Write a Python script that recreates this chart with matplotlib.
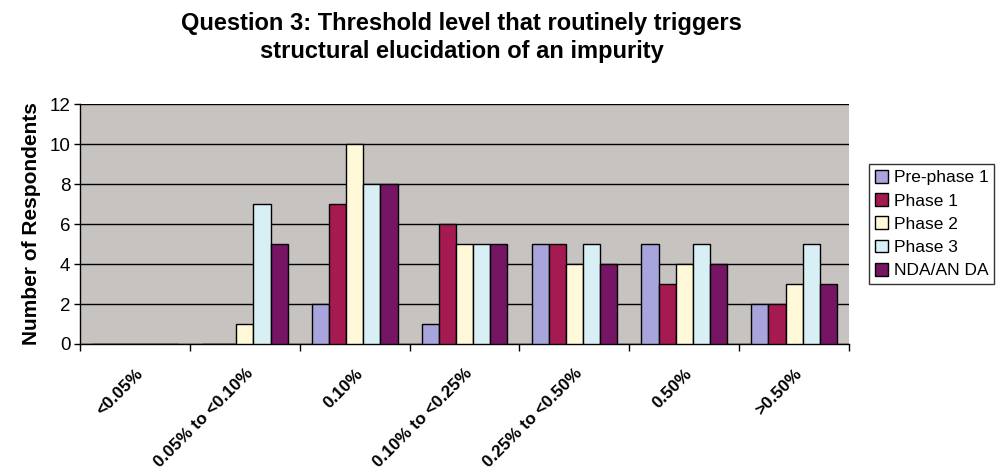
import numpy as np
import matplotlib
matplotlib.use("Agg")
import matplotlib.pyplot as plt

plt.rcParams['font.family'] = ['Liberation Sans', 'DejaVu Sans']

# categories and respondent counts per development phase
categories = ['<0.05%', '0.05% to <0.10%', '0.10%', '0.10% to <0.25%',
              '0.25% to <0.50%', '0.50%', '>0.50%']
series_names = ['Pre-phase 1', 'Phase 1', 'Phase 2', 'Phase 3', 'NDA/AN DA']
pre_phase1 = [0, 0, 2, 1, 5, 5, 2]
phase1 = [0, 0, 7, 6, 5, 3, 2]
phase2 = [0, 1, 10, 5, 4, 4, 3]
phase3 = [0, 7, 8, 5, 5, 5, 5]
nda_anda = [0, 5, 8, 5, 4, 4, 3]
colors = ['#A8A4DC', '#A61A52', '#FFF9DA', '#D8F0F5', '#761564']

fig = plt.figure(figsize=(10.04, 4.75), dpi=100)
ax = fig.add_axes([0.0797, 0.2758, 0.766, 0.505])
ax.set_facecolor('#C6C3C0')

x = np.arange(len(categories))
w = 0.156
for i, (vals, name, c) in enumerate(zip([pre_phase1, phase1, phase2, phase3, nda_anda],
                                        series_names, colors)):
    ax.bar(x + (i - 2) * w, vals, w, color=c, edgecolor='black', linewidth=1,
           label=name, zorder=3)

ax.set_xlim(-0.5, len(categories) - 0.5)
ax.set_ylim(0, 12)
ax.set_yticks(range(0, 13, 2))
ax.tick_params(axis='y', labelsize=13.5, length=4, width=1, pad=3)
ax.yaxis.grid(True, color='black', linewidth=1, zorder=1)

# ticks sit on category boundaries, labels at category centres
ax.set_xticks(np.arange(len(categories) + 1) - 0.5)
ax.set_xticklabels([])
ax.tick_params(axis='x', length=5, width=1)
for xi, lab in zip(x, categories):
    ax.text(xi + 0.1, -1.1, lab, rotation=45, ha='right', va='top',
            fontsize=12.3, fontweight='bold')

for s in ['top', 'right']:
    ax.spines[s].set_visible(False)
ax.spines['left'].set_linewidth(1)
ax.spines['bottom'].set_linewidth(1)

ax.set_ylabel('Number of Respondents', fontsize=15, fontweight='bold', labelpad=6)

fig.text(0.46, 0.975, 'Question 3: Threshold level that routinely triggers\n'
         'structural elucidation of an impurity',
         ha='center', va='top', fontsize=17, fontweight='bold', linespacing=1.3)

leg = ax.legend(loc='center left', bbox_to_anchor=(1.015, 0.5), fontsize=12.5,
                frameon=True, fancybox=False, edgecolor='black',
                handlelength=0.75, handleheight=0.75, handletextpad=0.3,
                labelspacing=0.45, borderpad=0.35)
leg.get_frame().set_linewidth(1)

fig.savefig('out.png', dpi=100)
